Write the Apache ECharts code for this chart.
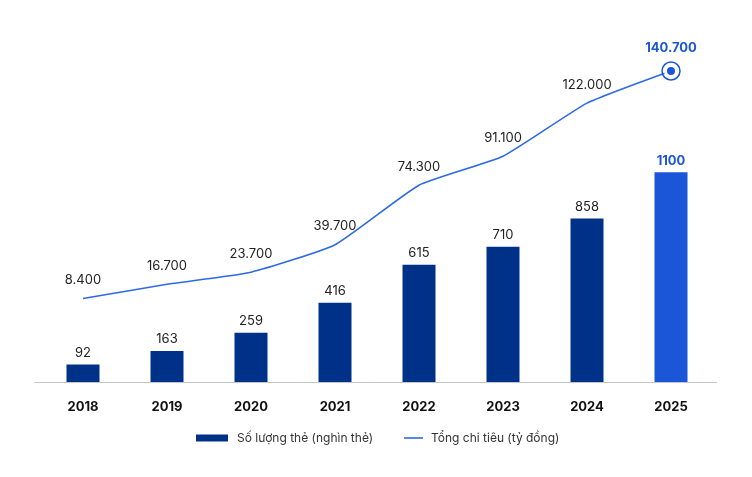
<!DOCTYPE html>
<html>
<head>
<meta charset="utf-8">
<script src="https://cdn.jsdelivr.net/npm/echarts@6/dist/echarts.min.js"></script>
<style>html,body{margin:0;padding:0;background:#fff}#c{width:752px;height:477px}</style>
</head>
<body>
<div id="c"></div>
<script>
const years = ['2018','2019','2020','2021','2022','2023','2024','2025'];
const cards = [92, 163, 259, 416, 615, 710, 858, 1100];
const spending = [8400, 16700, 23700, 39700, 74300, 91100, 122000, 140700];
const barName = 'Số lượng thẻ (nghìn thẻ)';
const lineName = 'Tổng chi tiêu (tỷ đồng)';

const NAVY = '#003189', BLUE = '#1b56d8', LINE = '#2d6ae6';
const fmt = v => v.toLocaleString('de-DE');
const last = years.length - 1;

const barData = cards.map((v, i) => i === last ? {
  value: v,
  itemStyle: { color: BLUE },
  label: { color: BLUE, fontWeight: 'bold' }
} : v);

const lineData = spending.map((v, i) => i === last ? {
  value: v,
  symbolSize: 11,
  itemStyle: { color: BLUE, borderColor: '#fff', borderWidth: 3 },
  label: { color: BLUE, fontWeight: 'bold', distance: 9 }
} : v);

const chart = echarts.init(document.getElementById('c'), null, { renderer: 'canvas' });
chart.setOption({
  animation: false,
  textStyle: { fontFamily: 'Inter' },
  grid: { left: 41, right: 39, top: 40, bottom: 95 },
  legend: [
    { data: [barName], left: 191, top: 427, itemWidth: 32, itemHeight: 7,
      icon: 'rect', textStyle: { fontSize: 12, color: '#333', fontFamily: 'Inter', padding: [0,0,0,4] } },
    { data: [{ name: lineName, icon: 'rect', itemStyle: { color: LINE } }], left: 399, top: 427, itemWidth: 19, itemHeight: 1.6,
      textStyle: { fontSize: 12, color: '#333', fontFamily: 'Inter', padding: [0,0,0,3] } }
  ],
  xAxis: {
    type: 'category', data: years,
    axisLine: { show: false }, axisTick: { show: false },
    axisLabel: { fontWeight: 'bold', fontSize: 13, color: '#111', margin: 19, fontFamily: 'Inter' }
  },
  yAxis: [
    { type: 'value', min: 0, max: 1794, show: false, splitLine: { show: false } },
    { type: 'value', min: -40120, max: 158720, show: false, splitLine: { show: false } }
  ],
  graphic: [{
    type: 'line', shape: { x1: 34, y1: 382.5, x2: 717, y2: 382.5 },
    style: { stroke: '#c6c6c6', lineWidth: 1 }, z: 0
  }],
  series: [
    {
      name: barName, type: 'bar', data: barData, barWidth: 33, yAxisIndex: 0,
      itemStyle: { color: NAVY },
      label: { show: true, position: 'top', distance: 5, fontSize: 13, color: '#222', fontFamily: 'Inter' },
      z: 2
    },
    {
      name: lineName, type: 'line', data: lineData, yAxisIndex: 1,
      symbol: 'circle', symbolSize: 0, showSymbol: true,
      smooth: 0.15,
      lineStyle: { color: LINE, width: 1.6 },
      itemStyle: { color: LINE },
      label: { show: true, position: 'top', distance: 12, fontSize: 13, color: '#222', fontFamily: 'Inter', formatter: p => fmt(p.value) },
      labelLayout: { hideOverlap: false },
      markPoint: {
        data: [{ type: 'max' }],
        symbol: 'circle', symbolSize: 18,
        itemStyle: { color: 'rgba(0,0,0,0)', borderColor: BLUE, borderWidth: 1.5 },
        label: { show: false }
      },
      z: 3
    }
  ]
});
</script>
</body>
</html>
